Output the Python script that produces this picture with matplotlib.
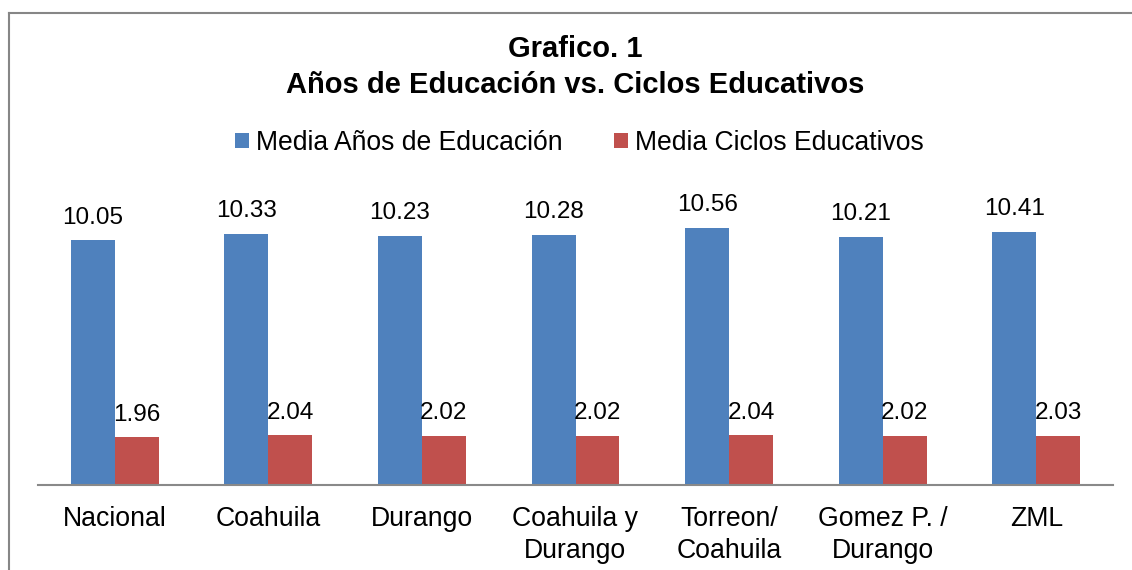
import matplotlib.pyplot as plt
import numpy as np

plt.rcParams['font.family'] = ['Liberation Sans', 'DejaVu Sans']

# Data
categories = ['Nacional', 'Coahuila', 'Durango', 'Coahuila y\nDurango',
              'Torreon/\nCoahuila', 'Gomez P. /\nDurango', 'ZML']
anios = [10.05, 10.33, 10.23, 10.28, 10.56, 10.21, 10.41]
ciclos = [1.96, 2.04, 2.02, 2.02, 2.04, 2.02, 2.03]
labels = ['Media Años de Educación', 'Media Ciclos Educativos']

blue = '#4f81bd'
red = '#c0504d'

fig = plt.figure(figsize=(11.32, 5.70), dpi=100)
ax = fig.add_axes([38 / 1132, 85 / 570, 1075 / 1132, 292 / 570])

x = np.arange(len(categories))
w = 0.286
b1 = ax.bar(x - w / 2, anios, w, color=blue, label=labels[0])
b2 = ax.bar(x + w / 2, ciclos, w, color=red, label=labels[1])

ax.bar_label(b1, labels=[f'{v:.2f}' for v in anios], padding=8.5, fontsize=17.5)
ax.bar_label(b2, labels=[f'{v:.2f}' for v in ciclos], padding=8.5, fontsize=17.5)

ax.set_xlim(-0.5, len(categories) - 0.5)
ax.set_ylim(0, 12)
ax.set_yticks([])
ax.set_xticks(x)
ax.set_xticklabels(categories, fontsize=19.2, linespacing=1.3)
ax.tick_params(axis='x', length=0, pad=15)
for s in ['top', 'right', 'left']:
    ax.spines[s].set_visible(False)
ax.spines['bottom'].set_color('#898989')
ax.spines['bottom'].set_linewidth(1.5)

fig.text(575 / 1132, 1 - 67 / 570, 'Grafico. 1\nAños de Educación vs. Ciclos Educativos',
         ha='center', va='center', fontsize=21, fontweight='bold', linespacing=1.32)

fig.legend(handles=[b1, b2], labels=labels, loc='center', ncol=2,
           bbox_to_anchor=(579.5 / 1132, 1 - 143 / 570), frameon=False, fontsize=19.1,
           handlelength=0.52, handleheight=0.52, handletextpad=0.27, columnspacing=1.95)

# chart border (left and top edges visible)
fig.add_artist(plt.Line2D([9 / 1132, 9 / 1132], [0, 1 - 13 / 570],
                          color='#868686', lw=1.5, transform=fig.transFigure))
fig.add_artist(plt.Line2D([9 / 1132, 1], [1 - 13 / 570, 1 - 13 / 570],
                          color='#868686', lw=1.5, transform=fig.transFigure))

fig.savefig('out.png', dpi=100)
